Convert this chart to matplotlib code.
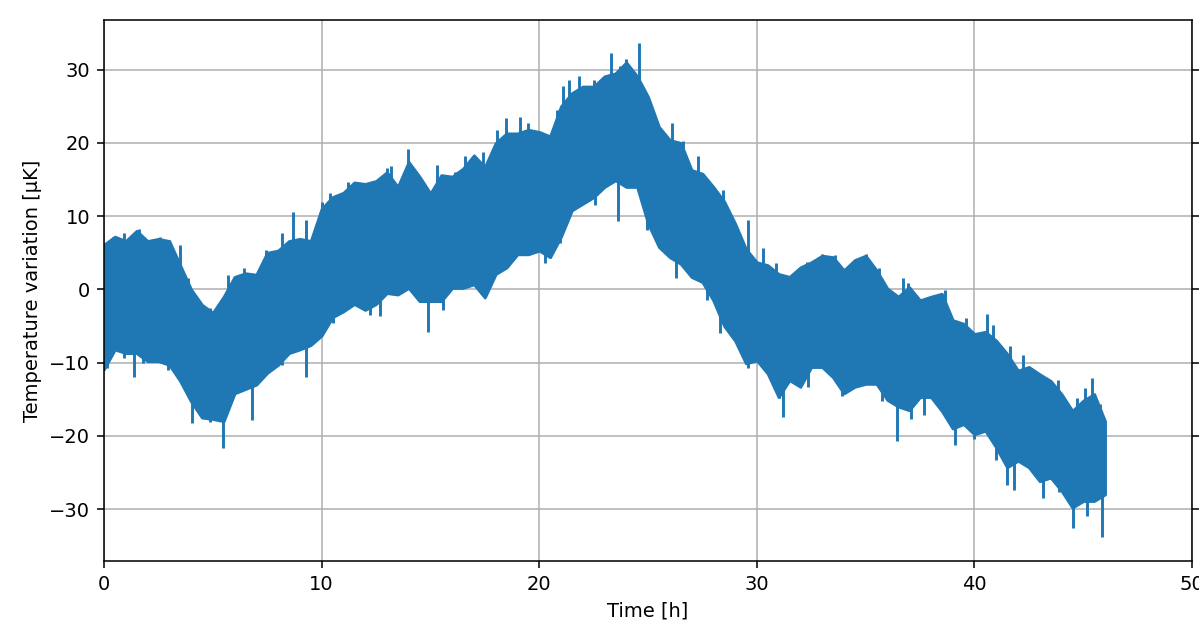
import numpy as np
import matplotlib
matplotlib.use("Agg")
import matplotlib.pyplot as plt

# Envelope of the noisy temperature record, read every 0.5 h
time_h = np.arange(0, 46.5, 0.5)
upper = [6.1, 7.2, 6.6, 8.0, 6.6, 6.9, 6.6, 3.3, 0.0, -2.1,
         -3.2, -1.0, 1.7, 2.2, 2.0, 5.0, 5.3, 6.6, 6.9, 6.6,
         11.0, 12.6, 13.2, 14.6, 14.4, 14.8, 16.0, 14.0, 17.4, 15.4,
         13.1, 15.6, 15.4, 16.5, 18.3, 16.7, 20.0, 21.3, 21.3, 21.8,
         21.5, 20.9, 25.0, 26.8, 27.7, 27.7, 29.1, 29.5, 31.0, 29.1,
         26.3, 22.2, 20.4, 20.0, 16.3, 15.8, 14.0, 12.0, 9.0, 5.5,
         3.7, 3.3, 2.1, 1.7, 3.0, 3.7, 4.6, 4.4, 2.6, 4.0,
         4.6, 2.6, 0.1, -1.0, 0.3, -1.5, -1.0, -0.6, -4.2, -4.7,
         -6.1, -5.8, -7.0, -8.8, -11.1, -10.6, -11.6, -12.5, -14.3, -16.6,
         -15.2, -14.3, -18.0]
lower = [-10.9, -8.2, -8.7, -8.7, -9.8, -9.8, -10.3, -12.5, -15.3, -17.5,
         -17.7, -18.0, -14.2, -13.6, -13.0, -11.4, -10.3, -8.7, -8.2, -7.6,
         -6.3, -3.8, -3.0, -2.0, -2.8, -2.0, -0.5, -0.7, 0.2, -1.6,
         -1.6, -1.6, 0.2, 0.2, 0.7, -1.1, 2.1, 3.0, 4.8, 4.8,
         5.3, 4.4, 7.2, 10.8, 11.7, 12.6, 14.0, 14.9, 14.0, 14.0,
         9.0, 5.8, 4.4, 3.5, 1.7, 1.0, -1.5, -5.0, -7.0, -10.1,
         -9.7, -11.5, -14.7, -12.4, -13.3, -10.6, -10.6, -12.0, -14.2, -13.3,
         -12.9, -12.9, -15.1, -16.0, -16.5, -14.7, -14.7, -16.6, -19.0, -18.4,
         -19.8, -19.3, -21.6, -24.3, -23.4, -24.3, -26.2, -25.7, -27.5, -29.8,
         -28.9, -28.9, -28.0]

# Isolated peaks above the band
peak_t = [0.43, 0.92, 1.62, 2.57, 3.0, 3.49, 3.88, 4.87, 5.71, 6.45,
          7.45, 8.2, 8.67, 9.28, 10.0, 10.39, 11.23, 12.99, 13.2, 13.99,
          15.29, 16.13, 16.59, 17.4, 18.05, 18.46, 19.12, 19.5, 20.8, 21.1,
          21.38, 21.84, 22.5, 22.92, 23.3, 23.71, 24.0, 24.59, 26.12, 26.62,
          27.31, 28.46, 29.61, 30.3, 30.9, 32.3, 32.98, 33.6, 35.0, 35.63,
          36.7, 36.96, 38.65, 39.6, 40.56, 40.87, 41.64, 42.22, 43.86, 44.73,
          45.1, 45.42, 45.77]
peak_v = [7.2, 7.7, 8.2, 7.2, 6.8, 6.1, 1.5, -2.5, 2.0, 2.9,
          5.4, 7.7, 10.6, 9.5, 12.0, 13.1, 14.7, 16.6, 16.8, 19.2,
          17.0, 16.0, 18.2, 18.7, 21.8, 23.4, 23.5, 22.7, 24.5, 27.8,
          28.6, 29.1, 28.6, 28.6, 32.3, 30.5, 31.5, 33.6, 22.7, 20.2,
          18.2, 13.6, 9.5, 5.6, 3.6, 3.8, 4.9, 4.7, 4.9, 2.9,
          1.5, 0.9, -0.1, -3.9, -3.3, -4.9, -7.8, -9.0, -12.4, -14.8,
          -13.5, -12.1, -15.6]

# Isolated dips below the band
dip_t = [0.12, 0.9, 1.38, 1.78, 2.96, 4.03, 4.87, 5.45, 6.1, 6.79,
         8.2, 9.3, 10.0, 10.54, 12.22, 12.68, 14.9, 15.6, 17.9, 18.8,
         20.27, 20.96, 22.56, 23.64, 24.94, 26.3, 27.7, 28.3, 29.6, 31.0,
         31.22, 32.37, 33.9, 35.74, 36.43, 37.1, 37.7, 39.1, 40.0, 41.0,
         41.48, 41.82, 43.17, 43.9, 44.52, 45.16, 45.88]
dip_v = [-10.8, -9.4, -11.9, -10.1, -11.0, -18.3, -18.1, -21.7, -14.0, -17.8,
         -10.3, -12.0, -6.0, -4.6, -3.5, -3.7, -5.8, -2.8, 1.5, 4.0,
         3.6, 6.3, 11.5, 9.4, 8.1, 1.5, -1.4, -6.0, -10.8, -14.9,
         -17.4, -13.3, -14.6, -15.3, -20.7, -17.7, -17.1, -21.3, -20.4, -23.3,
         -26.7, -27.4, -28.5, -27.7, -32.6, -31.0, -33.8]

color = "#1f77b4"
upper = np.array(upper)
lower = np.array(lower)
mid = (upper + lower) / 2

fig = plt.figure(figsize=(1199 / 140, 628 / 140), dpi=140)
ax = fig.add_axes([0.0867, 0.1067, 0.9075, 0.8615])

ax.fill_between(time_h, lower, upper, color=color, edgecolor=color, linewidth=1.5)
ax.vlines(peak_t, peak_v, np.interp(peak_t, time_h, mid), color=color, linewidth=1.5)
ax.vlines(dip_t, dip_v, np.interp(dip_t, time_h, mid), color=color, linewidth=1.5)

ax.set_xlim(0, 50)
ax.set_ylim(-37.1, 36.8)
ax.set_yticks([-30, -20, -10, 0, 10, 20, 30])
ax.tick_params(right=True)
ax.grid(True)
ax.set_axisbelow(True)
ax.set_xlabel("Time [h]")
ax.set_ylabel("Temperature variation [µK]")

fig.savefig("out.png", dpi=140)
